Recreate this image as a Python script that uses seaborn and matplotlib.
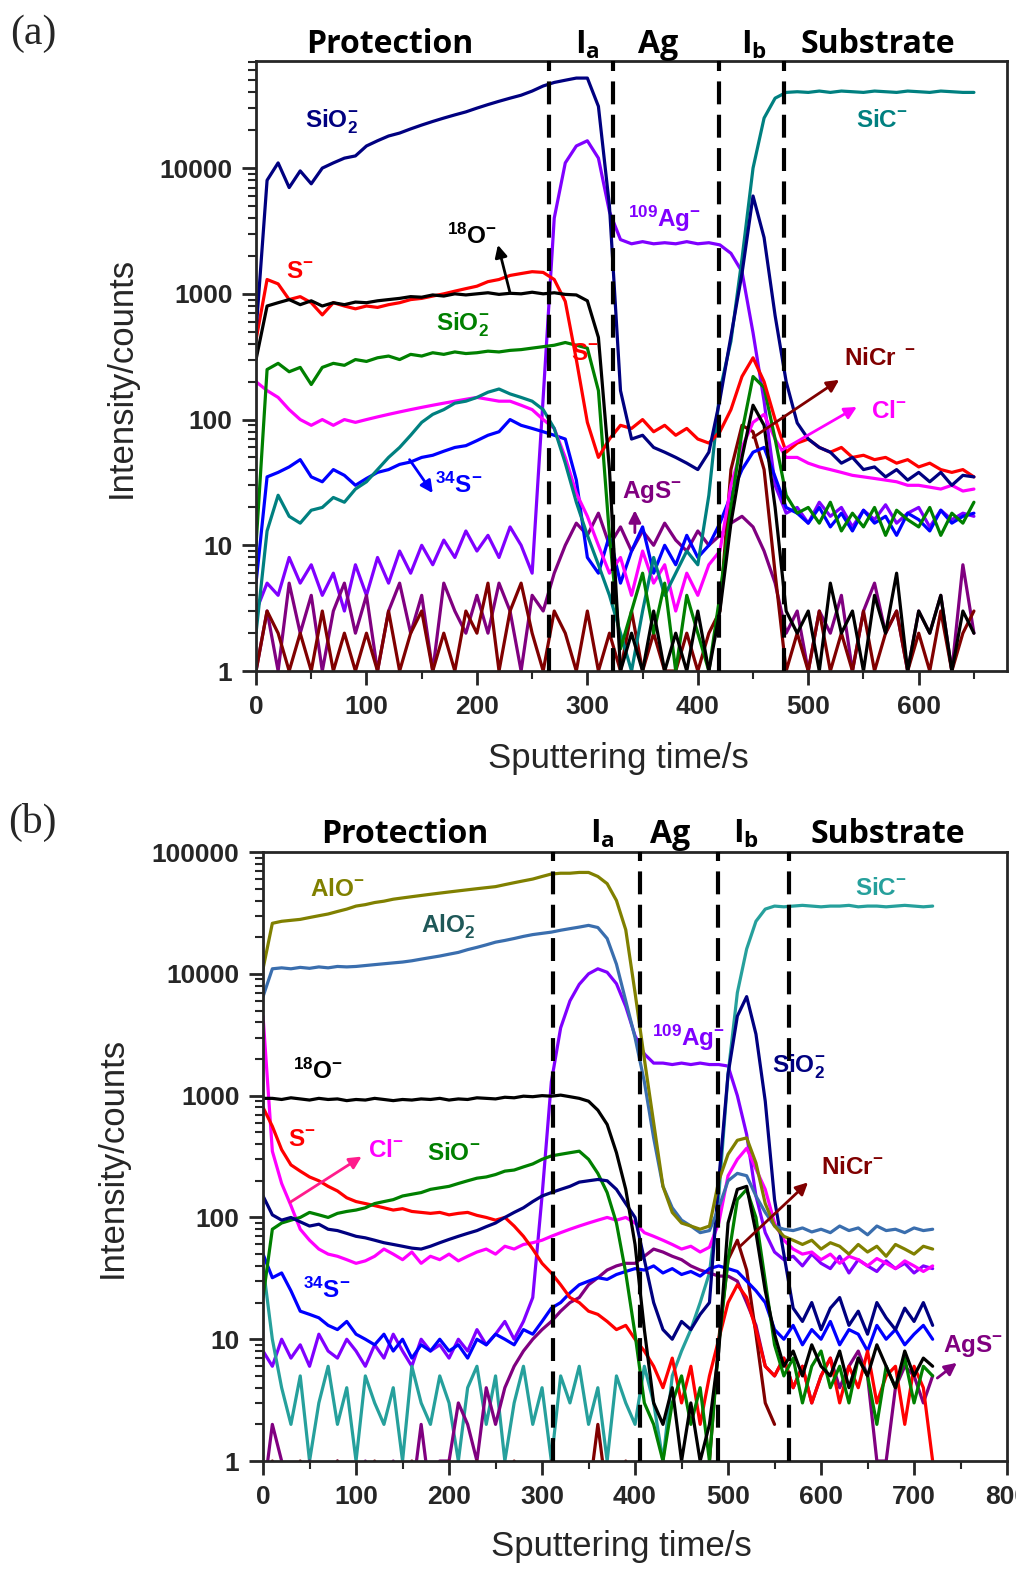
import numpy as np
import matplotlib
matplotlib.use("Agg")
import matplotlib.pyplot as plt
import matplotlib.transforms as mtransforms
import seaborn as sns
from matplotlib.ticker import FixedLocator, FuncFormatter, LogLocator, MultipleLocator, NullFormatter

time_a = np.arange(0, 660, 10)

sio2_a = [500, 8000, 11000, 7000, 9500, 7500, 10000, 11000, 12000, 12500,
          15000, 16500, 18000, 19000, 20500, 22000, 23500, 25000, 26500, 28000,
          30000, 32000, 34000, 36000, 38000, 41000, 45000, 48000, 50000, 52000,
          52000, 31000, 5000, 170, 70, 75, 60, 55, 50, 45,
          40, 55, 144, 460, 1450, 6000, 2800, 670, 200, 94,
          70, 60, 55, 45, 50, 40, 42, 35, 40, 33,
          38, 32, 38, 30, 36, 35]
sic_a = [2, 13, 25, 17, 15, 19, 20, 24, 22, 28,
         32, 40, 50, 60, 75, 95, 110, 120, 135, 140,
         150, 165, 175, 160, 150, 140, 120, 85, 45, 22,
         12, 7, 4, 2, 1, 3, 8, 4, 6, 9,
         7, 25, 170, 420, 1900, 10000, 25000, 36000, 40000, 40500,
         40000, 41000, 40000, 41000, 40500, 40000, 41000, 40500, 40000, 41000,
         40500, 40000, 41000, 40500, 40000, 40000]
ag_a = [3, 5, 4, 8, 5, 7, 4, 6, 3, 7,
        4, 8, 5, 9, 6, 10, 7, 11, 8, 13,
        9, 12, 8, 14, 10, 6, 150, 4000, 11000, 15000,
        16500, 12000, 4500, 2700, 2500, 2600, 2500, 2550, 2500, 2600,
        2500, 2550, 2450, 2100, 1500, 490, 140, 30, 18, 20,
        15, 22, 17, 20, 14, 19, 16, 21, 15, 18,
        20, 14, 19, 16, 18, 17]
o18_a = [300, 800, 850, 900, 820, 880, 800, 850, 820, 860,
         850, 880, 900, 920, 950, 940, 980, 960, 1000, 980,
         1000, 1020, 990, 1010, 1000, 1030, 1000, 1020, 990, 980,
         880, 450, 40, 1, 2, 1, 3, 1, 2, 1,
         3, 1, 3, 15, 50, 130, 90, 20, 3, 2,
         3, 1, 5, 2, 3, 1, 4, 2, 6, 1,
         3, 2, 4, 1, 3, 2]
s_a = [430, 1300, 1200, 900, 950, 850, 680, 850, 800, 760,
       800, 780, 820, 850, 900, 920, 960, 1000, 1050, 1100,
       1150, 1250, 1300, 1400, 1450, 1500, 1480, 1300, 870, 300,
       95, 50, 70, 90, 85, 100, 80, 90, 75, 85,
       70, 65, 80, 120, 220, 310, 200, 100, 55, 65,
       70, 60, 55, 60, 50, 52, 48, 50, 45, 48,
       42, 45, 40, 38, 40, 35]
sio_a = [10, 250, 280, 240, 260, 190, 260, 280, 270, 300,
         290, 310, 320, 300, 330, 320, 340, 330, 345, 335,
         340, 350, 345, 355, 360, 370, 380, 390, 410, 390,
         370, 170, 12, 1.5, 3, 6, 2, 5, 1, 4,
         2, 1, 4, 20, 80, 220, 180, 70, 25, 18,
         20, 15, 22, 13, 18, 14, 20, 12, 19, 16,
         14, 20, 12, 18, 15, 22]
cl_a = [200, 170, 150, 120, 100, 90, 100, 90, 100, 95,
        100, 105, 110, 115, 120, 125, 130, 135, 140, 145,
        150, 145, 140, 140, 130, 120, 100, 85, 50, 26,
        17, 10, 6, 8, 4, 9, 5, 7, 3, 6,
        4, 7, 9, 30, 60, 95, 110, 70, 50, 50,
        45, 42, 40, 38, 36, 35, 34, 33, 32, 30,
        30, 29, 28, 30, 27, 28]
s34_a = [5, 35, 38, 42, 48, 35, 32, 40, 36, 30,
         34, 38, 40, 44, 46, 50, 52, 56, 60, 62,
         68, 75, 80, 100, 90, 85, 80, 75, 70, 33,
         8, 6, 12, 5, 9, 14, 6, 10, 7, 12,
         8, 10, 15, 25, 40, 55, 60, 35, 20, 18,
         15, 20, 14, 18, 13, 19, 15, 17, 12, 18,
         16, 13, 19, 15, 17, 18]
ags_a = [1, 3, 1, 5, 2, 4, 1, 3, 5, 2,
         4, 1, 3, 5, 2, 4, 1, 5, 3, 2,
         4, 2, 5, 3, 1, 4, 3, 6, 10, 15,
         12, 18, 10, 14, 9, 13, 10, 15, 11, 9,
         13, 10, 12, 15, 17, 14, 9, 5, 2, 3,
         1, 3, 2, 4, 1, 3, 5, 2, 3, 1,
         3, 2, 4, 1, 7, 2]
nicr_a = [1, 3, 2, 1, 2, 1, 3, 1, 2, 1,
          2, 1, 3, 1, 2, 3, 1, 2, 1, 3,
          2, 5, 1, 3, 5, 2, 1, 3, 2, 1,
          3, 1, 2, 1, 3, 1, 2, 1, 1, 2,
          1, 2, 3, 40, 90, 80, 40, 6, 1, 2,
          1, 3, 1, 2, 1, 3, 1, 2, 3, 1,
          2, 1, 3, 1, 2, 3]

time_b = np.arange(0, 730, 10)

alo_b = [11000, 26000, 27000, 27500, 28000, 29000, 30000, 31000, 32500, 34000,
         36000, 37000, 38500, 39500, 41000, 42000, 43000, 44000, 45000, 46000,
         47000, 48000, 49000, 50000, 51000, 52000, 54000, 56000, 58000, 60000,
         63000, 66000, 67000, 67000, 68000, 68000, 63000, 55000, 40000, 23000,
         7000, 2000, 600, 180, 110, 90, 85, 80, 85, 200,
         330, 430, 450, 280, 130, 85, 70, 65, 60, 65,
         55, 62, 58, 50, 60, 52, 58, 48, 60, 55,
         50, 58, 55]
alo2_b = [6500, 11000, 11200, 11000, 11300, 11100, 11400, 11200, 11500, 11400,
          11500, 11700, 11900, 12100, 12300, 12500, 12800, 13200, 13600, 14000,
          14500, 15000, 15800, 16500, 17300, 18200, 18800, 19500, 20300, 21000,
          21500, 22000, 22800, 23500, 24200, 25000, 24000, 19500, 12000, 6000,
          3000, 1300, 450, 180, 120, 95, 85, 75, 78, 120,
          200, 230, 220, 150, 110, 85, 80, 78, 82, 76,
          80, 75, 85, 78, 82, 72, 85, 78, 80, 75,
          82, 78, 80]
ag_b = [8, 6, 10, 7, 9, 6, 11, 8, 7, 10,
        8, 6, 9, 7, 11, 8, 6, 10, 8, 9,
        7, 10, 8, 12, 9, 11, 14, 10, 14, 22,
        150, 1300, 3600, 6000, 8200, 10000, 11000, 10300, 8300, 5400,
        3100, 2200, 1850, 1850, 1800, 1850, 1800, 1850, 1800, 1800,
        1750, 1000, 480, 150, 75, 52, 45, 48, 40, 50,
        42, 38, 48, 35, 45, 40, 36, 44, 38, 42,
        35, 40, 38]
o18_b = [950, 950, 930, 960, 940, 920, 950, 930, 940, 910,
         930, 920, 950, 930, 910, 930, 920, 940, 930, 950,
         920, 940, 930, 960, 950, 940, 970, 960, 990, 980,
         1000, 990, 1010, 980, 950, 900, 760, 580, 340, 170,
         60, 12, 3, 2, 4, 1, 3, 1, 2, 8,
         90, 170, 180, 75, 25, 11, 6, 8, 5, 9,
         6, 5, 8, 4, 7, 5, 9, 6, 4, 8,
         5, 7, 6]
s_b = [800, 560, 360, 270, 240, 215, 200, 180, 165, 145,
       135, 130, 125, 120, 115, 118, 112, 110, 108, 110,
       105, 108, 110, 104, 100, 95, 100, 85, 70, 55,
       42, 35, 28, 22, 20, 17, 16, 14, 12, 13,
       10, 8, 6, 4, 7, 3, 6, 2, 5, 10,
       20, 28, 22, 12, 6, 5, 7, 4, 6, 3,
       5, 7, 3, 6, 4, 8, 3, 5, 6, 2,
       6, 4, 1]
cl_b = [4500, 350, 190, 125, 80, 65, 55, 50, 48, 45,
        42, 44, 48, 55, 50, 45, 52, 42, 48, 45,
        50, 44, 48, 52, 55, 50, 58, 55, 60, 62,
        65, 70, 75, 80, 85, 90, 95, 100, 95, 100,
        90, 75, 70, 65, 60, 55, 58, 52, 57, 90,
        220, 300, 370, 250, 170, 90, 65, 55, 50, 52,
        45, 50, 42, 48, 45, 40, 46, 42, 38, 44,
        40, 36, 40]
sio_b = [22, 80, 90, 95, 100, 110, 105, 100, 108, 112,
         115, 120, 130, 135, 140, 150, 155, 160, 170, 175,
         180, 190, 200, 210, 215, 225, 240, 245, 260, 275,
         300, 320, 330, 340, 350, 300, 230, 160, 90, 35,
         11, 3, 2, 1, 3, 5, 2, 4, 1, 9,
         45, 140, 170, 100, 30, 9, 5, 7, 3, 6,
         8, 4, 6, 3, 7, 5, 2, 6, 4, 7,
         3, 6, 5]
sio2_b = [150, 105, 95, 100, 92, 85, 88, 80, 78, 74,
          70, 68, 65, 62, 60, 58, 56, 55, 58, 62,
          66, 70, 74, 78, 84, 90, 100, 110, 120, 135,
          150, 160, 170, 180, 195, 200, 205, 200, 170, 130,
          100, 45, 20, 12, 10, 14, 12, 16, 20, 200,
          1500, 4500, 6500, 3200, 900, 140, 50, 18, 14, 20,
          12, 18, 22, 13, 17, 11, 20, 15, 12, 18,
          14, 20, 13]
s34_b = [50, 32, 35, 25, 17, 16, 15, 13, 12, 14,
         11, 10, 9, 11, 8, 10, 7, 9, 8, 10,
         8, 9, 7, 10, 9, 11, 10, 9, 12, 11,
         14, 18, 20, 24, 28, 30, 32, 31, 34, 36,
         38, 37, 40, 35, 38, 34, 36, 33, 38, 40,
         38, 36, 30, 25, 20, 12, 10, 13, 9, 12,
         10, 14, 9, 12, 11, 8, 13, 10, 12, 9,
         11, 13, 10]
sic_b = [40, 10, 4, 2, 5, 1, 3, 6, 2, 4,
         1, 5, 3, 2, 4, 1, 6, 3, 2, 5,
         3, 1, 4, 6, 2, 5, 1, 3, 6, 2,
         4, 1, 5, 3, 6, 2, 4, 1, 5, 3,
         2, 6, 3, 1, 5, 8, 12, 20, 35, 150,
         1500, 7000, 16000, 27000, 34000, 36000, 35500, 36000, 36500, 36000,
         35500, 36000, 36000, 36500, 35500, 36000, 36000, 35500, 36000, 36500,
         36000, 35500, 36000]
ags_b = [0.5, 2, 1, 0.5, 0.5, 1, 0.5, 0.5, 1, 0.5,
         0.5, 1, 0.5, 0.5, 1, 0.5, 0.5, 2, 0.5, 1,
         1, 3, 2, 1, 4, 2, 4, 6, 8, 10,
         12, 14, 17, 20, 22, 28, 32, 37, 40, 42,
         42, 48, 55, 52, 48, 45, 40, 37, 35, 33,
         33, 30, 20, 13, 6, 5, 7, 4, 6, 3,
         5, 7, 4, 6, 8, 5, 1, 1, 4, 6,
         5, 3, 5]
nicr_b = [0.5, 1, 0.5, 0.5, 1, 0.5, 0.5, 0.5, 1, 0.5,
          0.5, 0.5, 1, 0.5, 0.5, 0.5, 1, 0.5, 0.5, 0.5,
          1, 0.5, 0.5, 1, 0.5, 0.5, 0.5, 1, 0.5, 0.5,
          0.5, 1, 0.5, 0.5, 0.5, 0.5, 2, 0.5, 0.5, 1,
          0.5, 0.5, 0.5, 1, 0.5, 0.5, 0.5, 0.5, 1, 10,
          45, 65, 37, 11, 3, 2] + [np.nan] * 17

# layer boundaries (s) and layer names
bounds_a = [265, 323, 419, 478]
bounds_b = [312, 405, 489, 565]

NAVY, TEAL, VIOLET, RED, GREEN = "#000080", "#008080", "#8000ff", "#ff0000", "#008000"
MAGENTA, BLUE, PURPLE, MAROON = "#ff00ff", "#0000ff", "#800080", "#800000"
OLIVE, STEEL, TEAL_B = "#808000", "#3a6eae", "#26a09c"

sns.set_style("ticks")
plt.rcParams["font.family"] = ["Liberation Sans", "DejaVu Sans"]
plt.rcParams["font.weight"] = "bold"
plt.rcParams["mathtext.fontset"] = "custom"
plt.rcParams["mathtext.bf"] = "Liberation Sans:bold"
plt.rcParams["mathtext.rm"] = "Liberation Sans:bold"
plt.rcParams["mathtext.sf"] = "Open Sans:bold"

fig = plt.figure(figsize=(10.16, 15.70), dpi=100)
ax_a = fig.add_axes([0.2520, 0.5726, 0.7392, 0.3885])
ax_b = fig.add_axes([0.2589, 0.0694, 0.7323, 0.3879])


def draw(ax, t, series):
    for vals, col in series:
        sns.lineplot(x=t, y=vals, ax=ax, color=col, lw=2.3, legend=False)


def style(ax, xmax, ymax, yticks):
    ax.set_yscale("log")
    ax.set_xlim(0, xmax)
    ax.set_ylim(1, ymax)
    ax.xaxis.set_major_locator(MultipleLocator(100))
    ax.xaxis.set_minor_locator(MultipleLocator(50))
    ax.yaxis.set_major_locator(FixedLocator(yticks))
    ax.yaxis.set_major_formatter(FuncFormatter(lambda v, p: f"{int(round(v))}"))
    ax.yaxis.set_minor_locator(LogLocator(base=10, subs=np.arange(2, 10)))
    ax.yaxis.set_minor_formatter(NullFormatter())
    ax.tick_params(which="major", direction="out", length=10, width=2, labelsize=19)
    ax.tick_params(which="minor", direction="out", length=6, width=1.5)
    ax.tick_params(axis="x", pad=7)
    ax.tick_params(axis="y", pad=7)
    for sp in ax.spines.values():
        sp.set_visible(True)
        sp.set_linewidth(2)
    ax.set_xlabel("Sputtering time/s", fontsize=25, fontweight="normal")
    ax.set_ylabel("Intensity/counts", fontsize=25, fontweight="normal")


def layers(ax, bounds, names, ybase):
    trans = mtransforms.blended_transform_factory(ax.transData, ax.transAxes)
    for x in bounds:
        ax.axvline(x, color="black", lw=3, ls=(0, (5.5, 2.5)), zorder=5)
    for x, s, ha in names:
        ax.text(x, ybase, s, transform=trans, ha=ha, va="baseline", fontsize=23,
                fontfamily="Open Sans", fontweight="bold", color="black")


def label(ax, x, y, s, col):
    ax.text(x, y, s, color=col, fontsize=17.5, ha="left", va="baseline", zorder=6)


def arrow(ax, tail, tip, col):
    ax.annotate("", xy=tip, xytext=tail, zorder=6,
                arrowprops=dict(arrowstyle="-|>", color=col, lw=2, mutation_scale=18,
                                shrinkA=0, shrinkB=0))


# ---------------- panel (a) ----------------
draw(ax_a, time_a, [(ag_a, VIOLET), (ags_a, PURPLE), (nicr_a, MAROON), (s34_a, BLUE),
                    (cl_a, MAGENTA), (sic_a, TEAL), (sio_a, GREEN), (s_a, RED),
                    (o18_a, "black"), (sio2_a, NAVY)])
style(ax_a, 680, 71000, [1, 10, 100, 1000, 10000])
ax_a.xaxis.set_label_coords(0.482, -0.116)
ax_a.yaxis.set_label_coords(-0.158, 0.482)
layers(ax_a, bounds_a,
       [(121, "Protection", "center"), (289, r"$\mathsf{I_a}$", "left"), (364, "Ag", "center"),
        (439, r"$\mathsf{I_b}$", "left"), (563, "Substrate", "center")], 1.013)

label(ax_a, 44, 21200, r"$\mathbf{SiO_2^{-}}$", NAVY)
label(ax_a, 543, 21200, r"$\mathbf{SiC^{-}}$", TEAL)
label(ax_a, 173, 2490, r"$\mathbf{{}^{18}O^{-}}$", "black")
label(ax_a, 27, 1337, r"$\mathbf{S^{-}}$", RED)
label(ax_a, 163, 507, r"$\mathbf{SiO_2^{-}}$", GREEN)
label(ax_a, 285, 298, r"$\mathbf{S^{-}}$", RED)
label(ax_a, 337, 3400, r"$\mathbf{{}^{109}Ag^{-}}$", VIOLET)
label(ax_a, 532, 272, r"$\mathbf{NiCr}^{\ -}$", MAROON)
label(ax_a, 557, 103, r"$\mathbf{Cl^{-}}$", MAGENTA)
label(ax_a, 162, 26, r"$\mathbf{{}^{34}S^{-}}$", BLUE)
label(ax_a, 331, 23.9, r"$\mathbf{AgS^{-}}$", PURPLE)
arrow(ax_a, (230, 1016), (219, 2450), "black")
arrow(ax_a, (450, 72), (528, 207), MAROON)
arrow(ax_a, (476, 57), (544, 126), MAGENTA)
arrow(ax_a, (139, 48), (160, 26), BLUE)
arrow(ax_a, (343, 12.6), (343, 19), PURPLE)

# ---------------- panel (b) ----------------
draw(ax_b, time_b, [(ag_b, VIOLET), (sic_b, TEAL_B), (ags_b, PURPLE), (nicr_b, MAROON),
                    (s34_b, BLUE), (cl_b, MAGENTA), (s_b, RED), (sio_b, GREEN),
                    (sio2_b, NAVY), (o18_b, "black"), (alo2_b, STEEL), (alo_b, OLIVE)])
style(ax_b, 800, 100000, [1, 10, 100, 1000, 10000, 100000])
ax_b.xaxis.set_label_coords(0.481, -0.113)
ax_b.yaxis.set_label_coords(-0.18, 0.499)
layers(ax_b, bounds_b,
       [(152, "Protection", "center"), (352, r"$\mathsf{I_a}$", "left"), (438, "Ag", "center"),
        (505, r"$\mathsf{I_b}$", "left"), (672, "Substrate", "center")], 1.015)

label(ax_b, 51, 43300, r"$\mathbf{AlO^{-}}$", OLIVE)
label(ax_b, 170, 21900, r"$\mathbf{AlO_2^{-}}$", "#1f5858")
label(ax_b, 32, 1360, r"$\mathbf{{}^{18}O^{-}}$", "black")
label(ax_b, 27, 383, r"$\mathbf{S^{-}}$", RED)
label(ax_b, 113, 316, r"$\mathbf{Cl^{-}}$", MAGENTA)
label(ax_b, 176, 294, r"$\mathbf{SiO^{-}}$", GREEN)
label(ax_b, 43, 22, r"$\mathbf{{}^{34}S^{-}}$", BLUE)
label(ax_b, 418, 2540, r"$\mathbf{{}^{109}Ag^{-}}$", VIOLET)
label(ax_b, 547, 1550, r"$\mathbf{SiO_2^{-}}$", NAVY)
label(ax_b, 637, 44200, r"$\mathbf{SiC^{-}}$", TEAL_B)
label(ax_b, 600, 229, r"$\mathbf{NiCr^{-}}$", MAROON)
label(ax_b, 731, 7.8, r"$\mathbf{AgS^{-}}$", PURPLE)
arrow(ax_b, (29, 133), (106, 316), "#ff1c8c")
arrow(ax_b, (513, 58), (586, 194), MAROON)
arrow(ax_b, (725, 4.8), (746, 6.4), PURPLE)

fig.text(10 / 1016, 0.991, "(a)", fontfamily="Liberation Serif", fontweight="normal",
         fontsize=30, ha="left", va="top")
fig.text(8 / 1016, 0.4885, "(b)", fontfamily="Liberation Serif", fontweight="normal",
         fontsize=30, ha="left", va="top")

fig.savefig("out.png", dpi=100)
